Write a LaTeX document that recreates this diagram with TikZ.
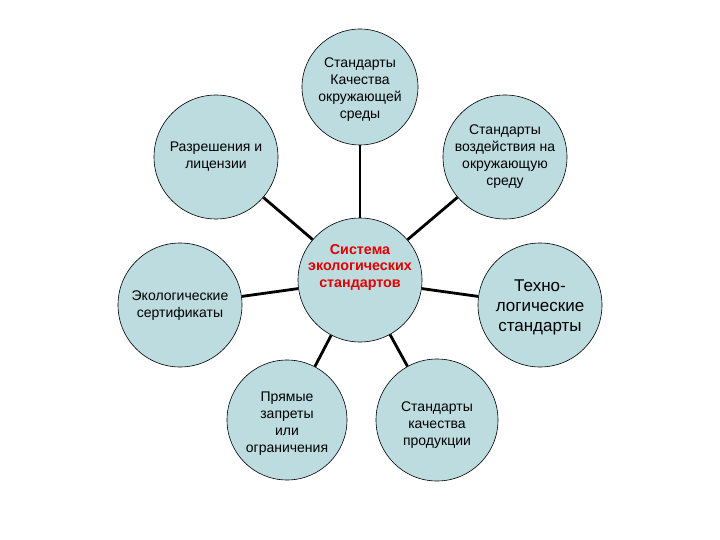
\documentclass[tikz,border=0pt]{standalone}
\usepackage{fontspec}
\setmainfont{Liberation Sans}
\definecolor{circfill}{HTML}{BCDCE0}
\definecolor{centred}{HTML}{E00000}
\begin{document}
\begin{tikzpicture}[x=1pt,y=-1pt,
  bubble/.style={circle,draw=black,line width=0.6pt,fill=circfill,minimum size=#1,inner sep=0pt},
  bubble/.default=118pt,
  txt/.style={align=center,inner sep=0pt,font=\fontsize{14}{17}\selectfont},
  link/.style={line width=2.8pt,black}]
\useasboundingbox (0,0) rectangle (720,540);
\fill[white] (0,0) rectangle (720,540);
\node[bubble=124pt] (c) at (360,280) {};
\node[bubble=116pt] (t) at (360,87) {};
\node[bubble=124pt] (tl) at (216,157) {};
\node[bubble=124pt] (tr) at (505,157) {};
\node[bubble=124pt] (l) at (180,305) {};
\node[bubble=124pt] (r) at (540,305) {};
\node[bubble=120pt] (bl) at (287,420) {};
\node[bubble=122pt] (br) at (437,420) {};
\foreach \n in {t,tl,tr,l,r,bl,br} \draw[link] (c) -- (\n);
\foreach \n in {c,t,tl,tr,l,r,bl,br} \node[bubble=0pt] at (\n) {};
\node[txt,font=\bfseries\fontsize{14.3}{16.5}\selectfont,text=centred] (ct) at (360,267) {Система\\экологических\\стандартов};
\node[txt] (tt) at (360,90) {Стандарты\\Качества\\окружающей\\среды};
\node[txt] (tlt) at (216,157) {Разрешения и\\лицензии};
\node[txt] (trt) at (505,157) {Стандарты\\воздействия на\\окружающую\\среду};
\node[txt] (lt) at (180,306) {Экологические\\сертификаты};
\node[txt,font=\fontsize{17}{20}\selectfont] (rt) at (540,307) {Техно-\\логические\\стандарты};
\node[txt] (blt) at (287,424) {Прямые\\запреты\\или\\ограничения};
\node[txt] (brt) at (437,425) {Стандарты\\качества\\продукции};
\end{tikzpicture}
\end{document}
